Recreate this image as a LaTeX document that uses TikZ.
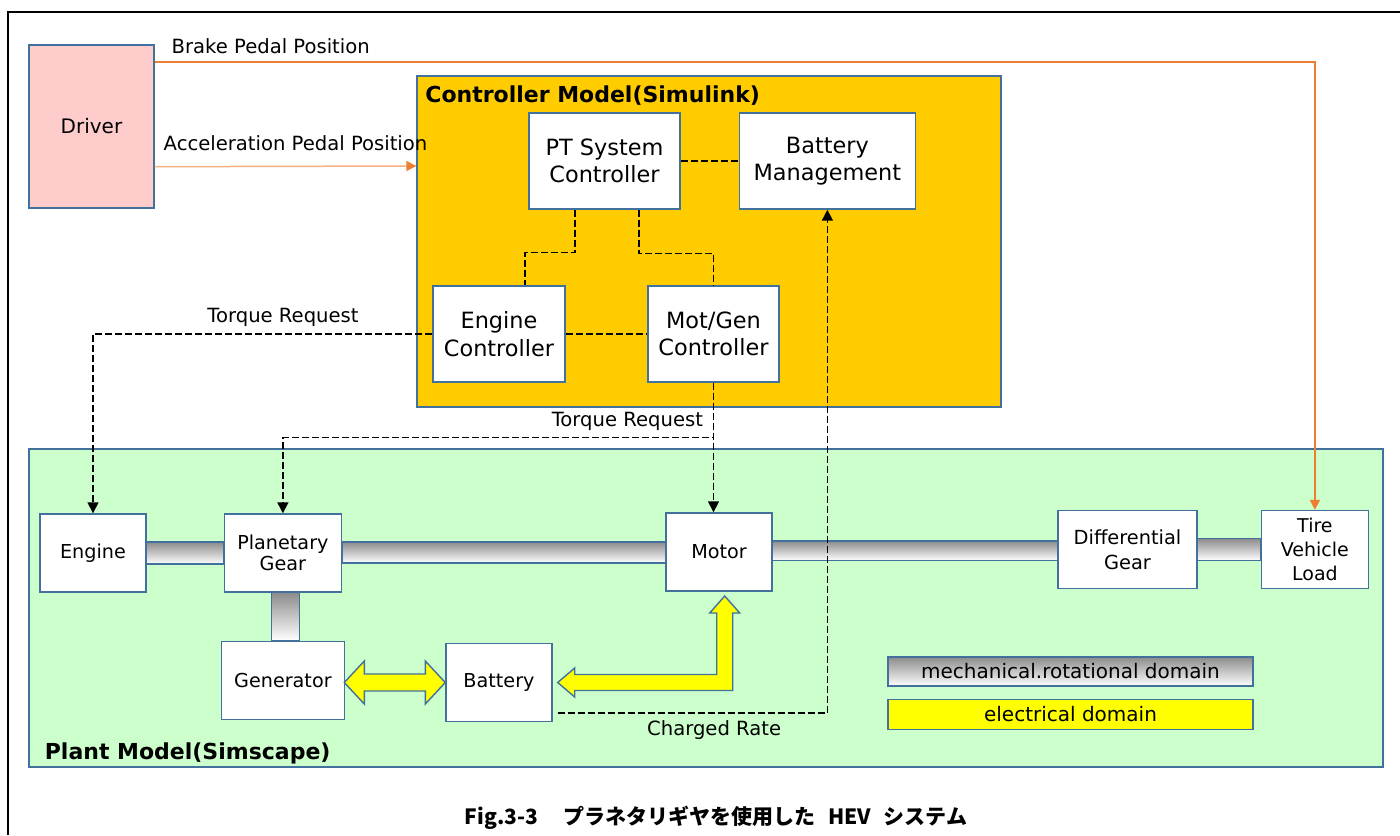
\documentclass[tikz,border=0pt]{standalone}
\usepackage{fontspec}
\setmainfont{DejaVu Sans}
\newfontfamily\cjk{Noto Sans CJK JP}
\usetikzlibrary{arrows.meta,positioning,calc}
\definecolor{edge}{HTML}{41719C}
\definecolor{driverfill}{HTML}{FFCCCC}
\definecolor{ctrlfill}{HTML}{FFCC00}
\definecolor{plantfill}{HTML}{CCFFCC}
\definecolor{pedal}{HTML}{ED7D31}
\definecolor{pedallight}{HTML}{F4B183}
\definecolor{elecfill}{HTML}{FFFF00}

\begin{document}
\begin{tikzpicture}[
  x=0.5pt,y=-0.5pt,
  blk/.style={draw=edge,fill=white,line width=.7pt,inner sep=0pt,align=center},
  sys/.style={blk,fill=#1},
  cbox/.style={blk,minimum height=48pt,font=\fontsize{11.2}{13.7}\selectfont},
  pbox/.style={blk,minimum height=39pt,font=\fontsize{9.6}{10.8}\selectfont},
  sig/.style={dash pattern=on 3.5pt off 1.5pt,line width=.75pt},
  sigarr/.style={sig,-{Triangle[length=5.5pt,width=5.5pt]}},
  ped/.style={color=pedal,line width=.8pt,-{Triangle[length=5pt,width=5pt]}},
  lab/.style={text=black,font=\fontsize{9.8}{12}\selectfont},
  ttl/.style={anchor=west,font=\fontsize{11}{13}\selectfont\bfseries},
  shaft/.style={draw=edge,line width=.7pt,top color=black!45,bottom color=white},
  elec/.style={draw=edge,line width=.7pt,fill=elecfill,line join=miter},
  legend/.style={draw=edge,line width=.7pt,inner sep=0pt,minimum width=182.5pt,font=\fontsize{10}{12}\selectfont}
]
\useasboundingbox (0,0) rectangle (1400,835);
\draw[line width=1pt] (8,835) -- (8,12) -- (1400,12);

\node[sys=driverfill,minimum width=62.5pt,minimum height=81.5pt,font=\fontsize{10}{12}\selectfont] (driver) at (91.5,126.5) {Driver};

\node[sys=ctrlfill,minimum width=292pt,minimum height=165.5pt] (ctrl) at (709,241.5) {};
\node[cbox,minimum width=75.5pt] (ptsc) at (604.5,161) {PT System\\Controller};
\node[cbox,minimum width=88pt,right=29pt of ptsc] (bms) {Battery\\Management};
\node[cbox,minimum width=66pt] (ecu) at (499,334) {Engine\\Controller};
\node[cbox,minimum width=65.5pt] (mgc) at (713.5,334) {Mot/Gen\\Controller};

\node[sys=plantfill,line width=1.2pt,minimum width=677pt,minimum height=159pt] (plant) at (706,608) {};
\node[pbox,minimum width=53pt] (engine) at (93,553) {Engine};
\node[pbox,minimum width=58.5pt,right=38.5pt of engine] (pg) {Planetary\\Gear};
\node[pbox,minimum width=61.5pt,below=24pt of pg] (gen) {Generator};
\node[pbox,minimum width=53pt] (batt) at (499,682.5) {Battery};
\node[pbox,minimum width=53pt] (motor) at (719,552) {Motor};
\node[pbox,minimum width=69.5pt,font=\fontsize{9.7}{12.5}\selectfont] (diff) at (1127.5,549.5) {Differential\\Gear};
\node[pbox,minimum width=53.5pt,font=\fontsize{9.5}{12}\selectfont,right=31.5pt of diff] (tire) {Tire\\Vehicle\\Load};

\path[shaft] ($(engine.east)+(0,-11)$) rectangle ($(pg.west)+(0,11)$);
\path[shaft] ($(pg.east)+(0,-11)$) rectangle ($(motor.west)+(0,11)$);
\path[shaft] ($(motor.east)+(0,-11)$) rectangle ($(diff.west)+(0,11)$);
\path[shaft] ($(diff.east)+(0,-11)$) rectangle ($(tire.west)+(0,11)$);
\path[shaft] ($(pg.south)+(-11.5,0)$) rectangle ($(pg.south |- gen.north)+(16.5,0)$);

\draw[elec] ($(batt.west)+(-101,0)$) -- ++(20,-21.5) -- ++(0,13) -- ++(61,0) -- ++(0,-13)
  -- (batt.west) -- ++(-20,21.5) -- ++(0,-13) -- ++(-61,0) -- ++(0,13) -- cycle;
\draw[elec] ($(batt.east)+(5,0)$) -- ++(17,-14.5) -- ++(0,6.5) -- ++(142,0) -- ++(0,-61.5)
  -- ++(-7,0) -- ++(15,-17) -- ++(15,17) -- ++(-7,0) -- ++(0,77.5) -- ++(-158,0) -- ++(0,6.5) -- cycle;

\node[legend,top color=black!45,bottom color=white,minimum height=14.5pt] (legmech) at (1070.5,671.5) {mechanical.rotational domain};
\node[legend,fill=elecfill,minimum height=15pt,below=6pt of legmech] (legelec) {electrical domain};

\draw[ped] ($(driver.north east)+(0,17.4)$) -| node[lab,above,pos=.05]{Brake Pedal Position} (tire.north);
\draw[draw=pedallight,line width=.75pt,-{Triangle[length=5pt,width=5pt,color=pedal]}] ($(driver.south east)+(0,-42)$)
  -- node[lab,above=4pt,xshift=5pt]{Acceleration Pedal Position} ($(ctrl.west)+(0,-75.5)$);

\draw[sig] (ptsc.east) -- (bms.west);
\draw[sig] (ecu.east) -- (mgc.west);
\draw[sig] ($(ptsc.south)+(-29.5,0)$) -- ++(0,43) -| ($(ecu.north)+(26,0)$);
\draw[sig] ($(ptsc.south)+(34.5,0)$) -- ++(0,44) -| (mgc.north);
\draw[sigarr] (ecu.west) -| node[lab,above,pos=.22]{Torque Request} (engine.north);
\draw[sigarr] (mgc.south) -- ++(0,55) -| node[lab,above,pos=.1]{Torque Request} (pg.north);
\draw[sigarr] (mgc.south) -- (mgc.south |- motor.north);
\draw[sigarr] ($(batt.south east)+(5,-9)$) -| node[lab,below,pos=.29]{Charged Rate} (bms.south);

\node[ttl] (ctrltitle) at ($(ctrl.north west)+(2,20)$) {Controller Model(Simulink)};
\node[ttl] (planttitle) at ($(plant.south west)+(10,-15)$) {Plant Model(Simscape)};

\node[font=\cjk\bfseries\fontsize{10.5}{12.5}\selectfont] (caption) at (716,818) {Fig.3-3\hspace{1.2em}プラネタリギヤを使用した\hspace{.6em}HEV\hspace{.6em}システム};
\end{tikzpicture}
\end{document}
